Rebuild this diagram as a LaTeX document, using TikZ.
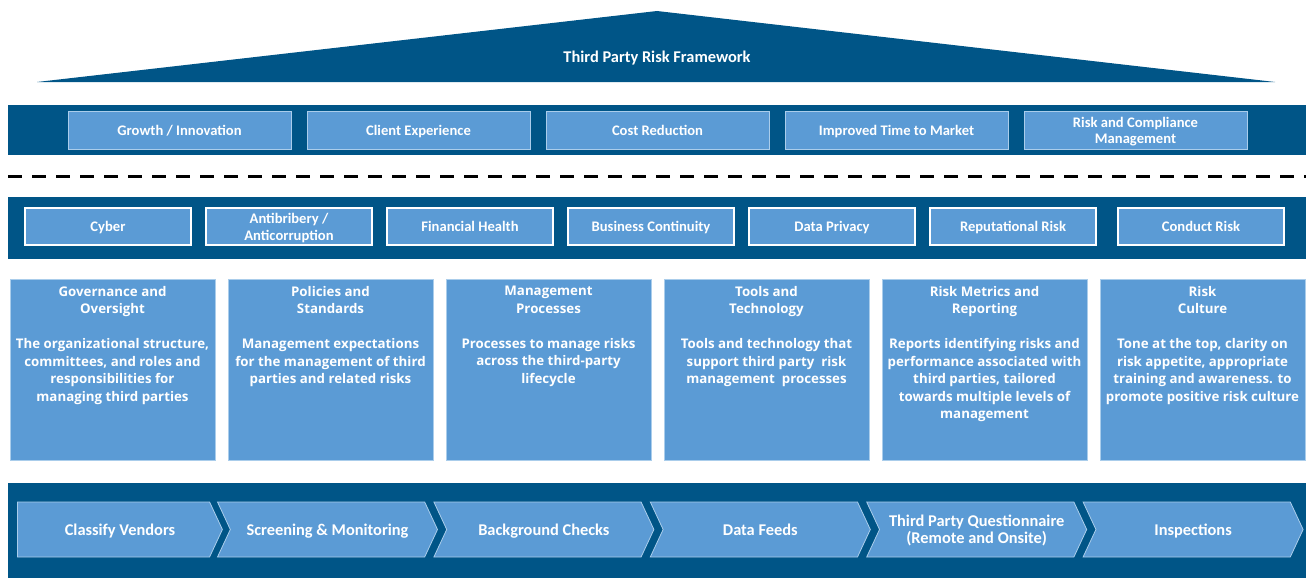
\documentclass[tikz,border=0pt]{standalone}
\usepackage{fontspec}
\setmainfont{Carlito}
\newfontfamily\pillarfont{Open Sans}
\usetikzlibrary{positioning,shapes.symbols}
\definecolor{darkblue}{RGB}{0,85,135}
\definecolor{midblue}{RGB}{91,155,213}
\definecolor{paleblue}{RGB}{170,205,235}

\begin{document}
\begin{tikzpicture}[x=1pt,y=-1pt,% pixel units, y grows downwards
			every node/.style={
				align=center,		% so that "\\" breaks lines
				text=white
			},
			goal/.style={rectangle,draw=paleblue,fill=midblue,line width=0.8pt,minimum width=223pt,minimum height=38pt,inner sep=1pt,text depth=0pt,font=\fontsize{14.6}{16}\selectfont\bfseries},
			risk/.style={rectangle,draw=white,fill=midblue,line width=2pt,minimum width=166pt,minimum height=37pt,inner sep=1pt,text depth=-0.5pt,font=\fontsize{14.6}{17}\selectfont\bfseries},
			pillar/.style={rectangle,draw=paleblue,fill=midblue,line width=0.6pt,minimum width=205pt,minimum height=181pt},
			pillartext/.style={anchor=north,yshift=-4pt,text=white,font=\pillarfont\fontsize{13.3}{17.5}\selectfont\bfseries},
			chevron/.style={signal,signal to=east,signal from=west,signal pointer angle=130,draw=paleblue,fill=midblue,line width=0.8pt,minimum width=220pt,minimum height=55pt,inner sep=0pt,text depth=-0.5pt,font=\fontsize{16.4}{17}\selectfont\bfseries}
		]
		\useasboundingbox (0,0) rectangle (1314,578);
		% roof
		\fill[darkblue] (37,82) -- (657,11) -- (1275,82) -- cycle;
		\node[font=\fontsize{16.4}{18}\selectfont\bfseries,text depth=0pt](T) at (657,56.5) {Third Party Risk Framework};
		% drivers
		\fill[darkblue] (8,105) rectangle (1306,155);
		\node[goal](G1) at (179.5,130) {Growth / Innovation};
		\node[goal](G2)[right=15.2pt of G1]{Client Experience};
		\node[goal](G3)[right=15.2pt of G2]{Cost Reduction};
		\node[goal](G4)[right=15.2pt of G3]{Improved Time to Market};
		\node[goal](G5)[right=15.2pt of G4]{Risk and Compliance\\Management};
		\draw[line width=3pt,dash pattern=on 14pt off 10pt] (8,176) -- (1306,176);
		% risk domains
		\fill[darkblue] (8,197) rectangle (1306,259);
		\node[risk](R1) at (108,226.5) {Cyber};
		\node[risk](R2)[right=13pt of R1]{Antibribery /\\Anticorruption};
		\node[risk](R3)[right=13pt of R2]{Financial Health};
		\node[risk](R4)[right=13pt of R3]{Business Continuity};
		\node[risk](R5)[right=13pt of R4]{Data Privacy};
		\node[risk](R6)[right=13pt of R5]{Reputational Risk};
		\node[risk](R7)[right=20pt of R6]{Conduct Risk};
		% pillars
		\node[pillar,label={[pillartext]north:Governance and\\Oversight\\[17.5pt]The organizational structure,\\committees, and roles and\\responsibilities for\\managing third parties}](P1) at (112.5,369.5) {};
		\node[pillar,label={[pillartext]north:Policies and\\Standards\\[17.5pt]Management expectations\\for the management of third\\parties and related risks}](P2)[right=12.4pt of P1]{};
		\node[pillar,label={[pillartext]north:Management\\Processes\\[17.5pt]Processes to manage risks\\across the third-party\\lifecycle}](P3)[right=12.4pt of P2]{};
		\node[pillar,label={[pillartext]north:Tools and\\Technology\\[17.5pt]Tools and technology that\\support third party\ \ risk\\management\ \ processes}](P4)[right=12.4pt of P3]{};
		\node[pillar,label={[pillartext]north:Risk Metrics and\\Reporting\\[17.5pt]Reports identifying risks and\\performance associated with\\third parties, tailored\\towards multiple levels of\\management}](P5)[right=12.4pt of P4]{};
		\node[pillar,label={[pillartext]north:Risk\\Culture\\[17.5pt]Tone at the top, clarity on\\risk appetite, appropriate\\training and awareness. to\\promote positive risk culture}](P6)[right=12.4pt of P5]{};
		% process steps
		\fill[darkblue] (8,483) rectangle (1306,578);
		\node[chevron,signal from=nowhere,minimum width=205pt,anchor=west](C1) at (17,529.5) {\hspace*{13pt}Classify Vendors};
		\node[chevron](C2) at (327.5,529.5) {Screening \& Monitoring};
		\node[chevron](C3) at (543.9,529.5) {Background Checks};
		\node[chevron](C4) at (760.3,529.5) {Data Feeds};
		\node[chevron](C5) at (976.7,529.5) {Third Party Questionnaire\\(Remote and Onsite)};
		\node[chevron](C6) at (1193.1,529.5) {Inspections};
	\end{tikzpicture}
\end{document}
